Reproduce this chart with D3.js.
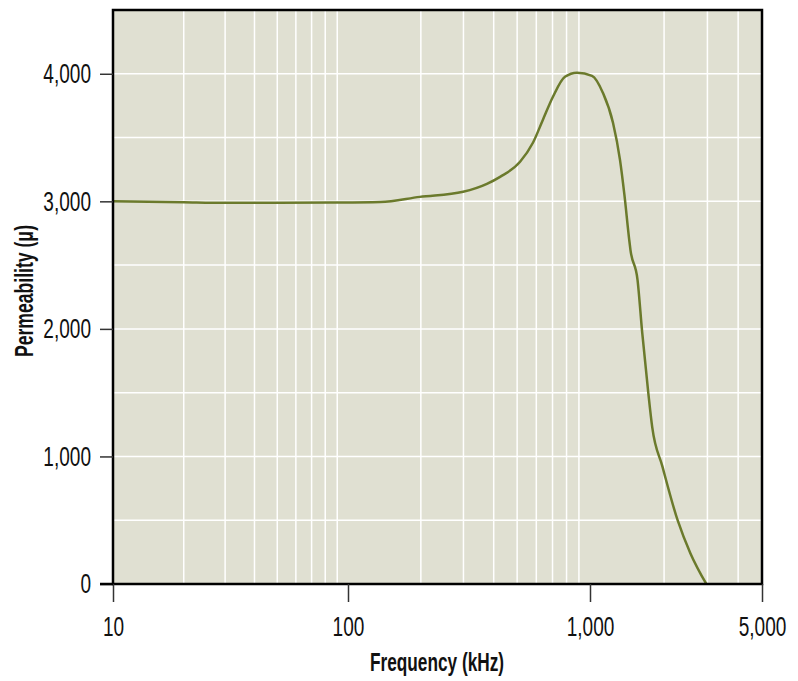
<!DOCTYPE html>
<html>
<head>
<meta charset="utf-8">
<script src="https://cdn.jsdelivr.net/npm/d3@7"></script>
<style>
  body { margin: 0; background: #fff; }
  text { font-family: "Liberation Sans", Arial, sans-serif; fill: #111; }
</style>
</head>
<body>
<script>
// frequency (kHz) and permeability
var freqs = [10, 20, 30, 50, 84, 136, 198, 299, 375, 425, 514, 581, 639, 703, 788, 884, 1019, 1129, 1240, 1324, 1380, 1443, 1460, 1560, 1630, 1725, 1790, 1970, 2270, 2560, 2970];
var perms = [3000, 2992, 2988, 2988, 2990, 2995, 3035, 3075, 3137, 3192, 3310, 3459, 3640, 3820, 3976, 4008, 3984, 3850, 3616, 3325, 3050, 2700, 2620, 2385, 1970, 1500, 1230, 920, 500, 240, 0];

var xTicks = [10, 100, 1000, 5000];
var yTicks = [0, 1000, 2000, 3000, 4000];
var xGrid = [20, 30, 40, 50, 60, 70, 80, 90, 200, 300, 400, 500, 600, 700, 800, 900, 2000, 3000, 4000];
var yGrid = [500, 1000, 1500, 2000, 2500, 3000, 3500, 4000];

var W = 798, H = 681;
var m = {left: 113, top: 10, right: 36, bottom: 97};
var w = W - m.left - m.right, h = H - m.top - m.bottom;
var sx = 0.68; // squeeze for the condensed look

var svg = d3.select("body").append("svg")
  .attr("width", W).attr("height", H);

// the printed decades are not quite equal, so use a piecewise log scale
var x = d3.scaleLog().domain([10, 100, 1000, 5000]).range([0, 235, 477, w]);
var y = d3.scaleLinear().domain([0, 4500]).range([h, 0]);

var g = svg.append("g").attr("transform", "translate(" + m.left + "," + m.top + ")");

g.append("rect").attr("width", w).attr("height", h).style("fill", "#e0e0d2");

// grid
g.selectAll(".vg").data(xGrid).enter().append("line")
  .attr("x1", function(d){ return x(d); }).attr("x2", function(d){ return x(d); })
  .attr("y1", 0).attr("y2", h)
  .style("stroke", "#fff").style("stroke-width", 1.5);
g.selectAll(".hg").data(yGrid).enter().append("line")
  .attr("y1", function(d){ return y(d); }).attr("y2", function(d){ return y(d); })
  .attr("x1", 0).attr("x2", w)
  .style("stroke", "#fff").style("stroke-width", 1.5);

// curve
var pts = freqs.map(function(f, i){ return [f, perms[i]]; });
var line = d3.line()
  .x(function(d){ return x(d[0]); })
  .y(function(d){ return y(d[1]); })
  .curve(d3.curveMonotoneX);
g.append("path").datum(pts).attr("d", line)
  .style("fill", "none").style("stroke", "#6b7a2c").style("stroke-width", 2.5);

// frame
g.append("rect").attr("width", w).attr("height", h)
  .style("fill", "none").style("stroke", "#000").style("stroke-width", 2.5);

// axes
var yAxis = d3.axisLeft(y).tickValues(yTicks).tickSize(13).tickPadding(9)
  .tickFormat(d3.format(","));
var ya = g.append("g").call(yAxis);
var xAxis = d3.axisBottom(x).tickValues(xTicks).tickSize(18).tickPadding(14)
  .tickFormat(d3.format(","));
var xa = g.append("g").attr("transform", "translate(0," + h + ")").call(xAxis);
[ya, xa].forEach(function(a){
  a.select(".domain").remove();
  a.selectAll(".tick line").style("stroke", "#333").style("stroke-width", 1.5);
  a.selectAll(".tick text").style("font-size", "28px").style("fill", "#111")
    .attr("transform", "scale(" + sx + ",1)");
});
ya.selectAll(".tick text").attr("x", -22 / sx);

// bottom axis line reaching past the frame on the left
g.append("line").attr("x1", -13).attr("x2", 0).attr("y1", h).attr("y2", h)
  .style("stroke", "#000").style("stroke-width", 2.5);

svg.append("text")
  .attr("x", 370).attr("y", 671)
  .attr("textLength", 134).attr("lengthAdjust", "spacingAndGlyphs")
  .style("font-size", "25px").style("font-weight", "bold")
  .text("Frequency (kHz)");

svg.append("text")
  .attr("transform", "translate(33,357) rotate(-90)")
  .attr("textLength", 132).attr("lengthAdjust", "spacingAndGlyphs")
  .style("font-size", "25px").style("font-weight", "bold")
  .text("Permeability (μ)");
</script>
</body>
</html>
